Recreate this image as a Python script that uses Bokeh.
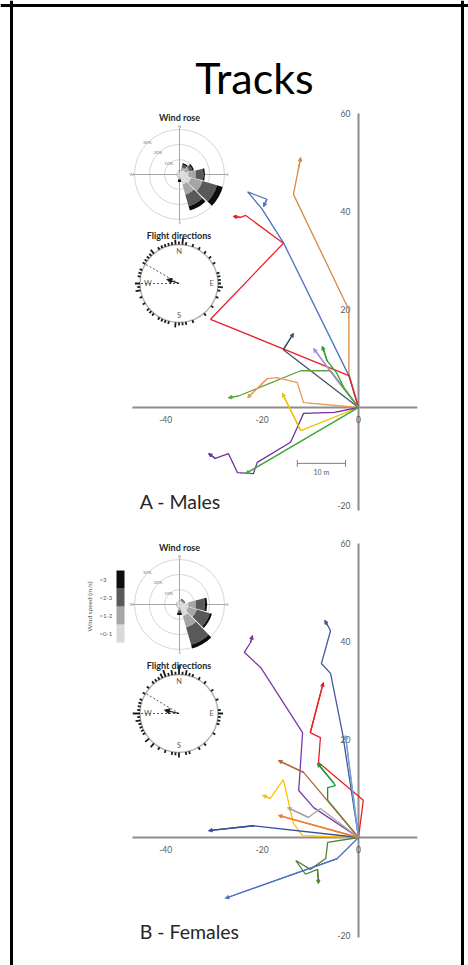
import math
from collections import Counter
from bokeh.plotting import figure
from bokeh.models import Range1d, Span, Label, Arrow, NormalHead, ColumnDataSource
from bokeh.core.properties import value
from bokeh.embed import file_html
from bokeh.resources import INLINE

# ---------------- data ----------------
title_text = "Tracks"
panel_labels = ["A - Males", "B - Females"]
x_tick_values = [-40, -20, 0]
y_tick_values = [60, 40, 20, -20]
scale_bar_m = 10

# Males: track coordinates (m), start at release point (0, 0)
m_orange_x = [0, -2, -2, -3, -13.5, -12.5, -12]
m_orange_y = [0, 7, 20, 22, 43.5, 48.5, 51]
m_blue_x = [0, -2, -15.5, -20, -23, -19, -19.7]
m_blue_y = [0, 6.5, 33.5, 40.5, 44, 42.5, 41]
m_red_x = [0, -2, -30.7, -15.6, -23.4, -24.5, -26]
m_red_y = [0, 6.5, 18, 33.5, 39.2, 38.8, 39]
m_slate_x = [0, -15.6, -13.5]
m_slate_y = [0, 11.8, 15.1]
m_green1_x = [0, -3, -4.5, -6.5, -7.5]
m_green1_y = [0, 4, 7, 9.5, 12.5]
m_lavender_x = [0, -4, -9.3]
m_lavender_y = [0, 5, 12]
m_green2_x = [0, -5.8, -12, -25, -27]
m_green2_y = [0, 7.5, 7.5, 2.3, 2]
m_tan_x = [0, -11.4, -12.7, -16.8, -18.9, -23]
m_tan_y = [0, 1, 5.1, 6.1, 5.9, 2]
m_yellow_x = [0, -12, -15.8]
m_yellow_y = [0, -4.7, 2.9]
m_purple_x = [0, -5, -11.4, -12.7, -14.1, -21, -21.8, -25.1, -27, -29.7, -31.1]
m_purple_y = [0, -1, -1.2, -4.1, -7.1, -11.2, -13.5, -13.3, -9.4, -10.4, -9.4]
m_green3_x = [0, -23.4]
m_green3_y = [0, -13.5]

# Females
f_purple_x = [0, -9.3, -12.4, -11.6, -20.3, -23.7, -22.4, -22]
f_purple_y = [0, 6.1, 9.6, 21.4, 34.7, 37.8, 39.8, 41.2]
f_navy_x = [0, -3.3, -5.8, -7.7, -5.8, -6.4, -7]
f_navy_y = [0, 21.2, 33.5, 35.5, 42.2, 43.3, 44.3]
f_red_x = [0, 1, -8.3, -7.9, -10, -7.3]
f_red_y = [0, 7.6, 15.3, 20.4, 21.4, 31.6]
f_lightblue_x = [0, -2.7]
f_lightblue_y = [0, 20.8]
f_green_x = [0, -6.4, -6.4, -4.8, -5.2, -8.5]
f_green_y = [0, 7.6, 10.2, 10.6, 11.2, 15.1]
f_brown_x = [0, -11.4, -16.6]
f_brown_y = [0, 13.3, 15.7]
f_yellow_x = [0, -11.6, -13.5, -15.6, -18.3, -19.9]
f_yellow_y = [0, 0.4, 2.9, 11.8, 8, 8.6]
f_gray_x = [0, -7.9, -10.4, -14.7]
f_gray_y = [0, 5.9, 4.1, 6.1]
f_orange_x = [0, -16.6]
f_orange_y = [0, 4.5]
f_darkblue_x = [0, -21.8, -31.1]
f_darkblue_y = [0, 2.4, 1.4]
f_dkgreen_x = [0, -6.4, -6.8, -10, -13, -11, -8.5, -8.3]
f_dkgreen_y = [0, -1, -4.3, -6.5, -4.7, -7.5, -6.5, -9.4]
f_blue_x = [0, -4.4, -27.6]
f_blue_y = [0, -4.3, -12.4]

# Wind rose: direction sectors (deg from N) and % frequency per speed class
wind_dirs = [0, 30, 60, 90, 120, 150, 180, 210, 240, 270, 300, 330]
speed_classes = [">0-1", ">1-2", ">2-3", ">3"]
m_wind_0_1 = [1.5, 3, 4, 6, 8, 7, 2, 1.5, 1.5, 2, 1.5, 1.5]
m_wind_1_2 = [1, 2, 3, 5, 8, 7, 1, 0.5, 0.5, 0.5, 0.5, 0.5]
m_wind_2_3 = [0.5, 2, 2, 5, 10, 8, 0.5, 0, 0, 0, 0, 0]
m_wind_3p = [0, 1, 1, 1, 4, 3, 1.5, 0, 0, 0, 0, 0]
f_wind_0_1 = [2, 2, 2, 6, 6, 8, 2, 2, 2, 2, 2, 1.5]
f_wind_1_2 = [1, 1, 1, 5, 6, 8, 2, 0.5, 0.5, 0.5, 0.5, 0.5]
f_wind_2_3 = [0, 1, 1, 6, 9, 12, 1.5, 0, 0, 0, 0, 0]
f_wind_3p = [0, 0, 0, 1.5, 1.5, 2.5, 1.5, 0, 0, 0, 0, 0]
rose_rings = [10, 20, 30]

# Flight directions (deg from N), one per track
m_flight_dirs = [352, 355, 355, 0, 3, 5, 5, 12, 22, 30, 42, 50, 58, 75, 82, 87, 90, 93, 97,
                 102, 110, 125, 140, 160, 168, 175, 180, 183, 187, 195, 200, 205, 212, 218,
                 225, 232, 240, 250, 258, 262, 265, 270, 272, 278, 283, 290, 298, 305, 310,
                 315, 318, 322, 328, 335, 340, 345]
f_flight_dirs = [330, 333, 335, 338, 340, 340, 345, 348, 352, 355, 358, 0, 0, 2, 5, 8, 10, 15,
                 20, 30, 40, 55, 70, 85, 90, 92, 95, 100, 105, 120, 140, 150, 165, 172, 178,
                 180, 183, 190, 200, 210, 218, 222, 228, 232, 238, 245, 250, 255, 260, 262,
                 265, 268, 270, 272, 275, 280, 285, 290, 300, 310, 318, 325]
m_mean_dir, m_mean_len = 289, 0.33
f_mean_dir, f_mean_len = 283, 0.38
m_dash_dirs = [270, 300]
f_dash_dirs = [270, 301]

# ---------------- layout / style ----------------
W, H = 468, 965
OX, OY = 0, 0
FONT = "Lato"
GREY = "#595959"
speed_colors = ["#d9d9d9", "#a6a6a6", "#595959", "#0d0d0d"]


def xr(c, s):
    return Range1d((OX - c) / s, (OX + W - c) / s)


def yr(c, s):
    return Range1d((c - (OY + H)) / s, (c - OY) / s)


def px(xp):
    return xp - OX


def py(yp):
    return OY + H - yp


p = figure(width=W, height=H, x_range=Range1d(0, W), y_range=Range1d(0, H),
           output_backend="svg", toolbar_location=None, min_border=0,
           x_axis_location=None, y_axis_location=None)
p.grid.visible = False
p.outline_line_color = None
p.background_fill_color = "white"
p.border_fill_color = "white"

# slide frame (left, right, top)
for sp in [Span(location=px(11), dimension="height"), Span(location=px(462), dimension="height"),
           Span(location=py(5), dimension="width")]:
    sp.line_color = "black"
    sp.line_width = 3
    p.add_layout(sp)

p.add_layout(Label(x=px(254), y=py(77), text=title_text, text_font=FONT, text_font_size="43px",
                   text_align="center", text_baseline="alphabetic", text_color="black"))

p.extra_x_ranges["trk"] = xr(358, 4.82)
p.extra_x_ranges["rose"] = xr(179, 1.5)
p.extra_x_ranges["fl"] = xr(178.5, 39)

panels = [
    dict(key="m", cy=407, rose_cy=174, fl_cy=283, label=panel_labels[0],
         tracks=[(m_orange_x, m_orange_y, "#d88a46"), (m_blue_x, m_blue_y, "#4a72c4"),
                 (m_red_x, m_red_y, "#e8212b"), (m_slate_x, m_slate_y, "#44546a"),
                 (m_lavender_x, m_lavender_y, "#a48fd0"), (m_green1_x, m_green1_y, "#2f9e2f"),
                 (m_green2_x, m_green2_y, "#5ea33e"), (m_tan_x, m_tan_y, "#e99a5a"),
                 (m_yellow_x, m_yellow_y, "#f0c000"), (m_purple_x, m_purple_y, "#7030a0"),
                 (m_green3_x, m_green3_y, "#45ad45")],
         wind=[m_wind_0_1, m_wind_1_2, m_wind_2_3, m_wind_3p],
         flights=m_flight_dirs, mean=(m_mean_dir, m_mean_len), dashes=m_dash_dirs,
         vaxis=(-21, 60), scale=True, legend=False),
    dict(key="f", cy=837, rose_cy=604, fl_cy=713, label=panel_labels[1],
         tracks=[(f_purple_x, f_purple_y, "#7a3aaa"), (f_navy_x, f_navy_y, "#46589a"),
                 (f_lightblue_x, f_lightblue_y, "#6fa3d8"), (f_red_x, f_red_y, "#ee1c25"),
                 (f_green_x, f_green_y, "#119a3a"), (f_brown_x, f_brown_y, "#b06a3c"),
                 (f_yellow_x, f_yellow_y, "#ffc000"), (f_gray_x, f_gray_y, "#a5a5a5"),
                 (f_orange_x, f_orange_y, "#ed7d31"), (f_darkblue_x, f_darkblue_y, "#35509a"),
                 (f_dkgreen_x, f_dkgreen_y, "#548235"), (f_blue_x, f_blue_y, "#4a72c4")],
         wind=[f_wind_0_1, f_wind_1_2, f_wind_2_3, f_wind_3p],
         flights=f_flight_dirs, mean=(f_mean_dir, f_mean_len), dashes=f_dash_dirs,
         vaxis=(-20.4, 60), scale=False, legend=True),
]


def polar(bearing, r):
    t = math.radians(bearing)
    return r * math.sin(t), r * math.cos(t)


for pan in panels:
    k = pan["key"]
    ty, ry, fy = "trk_" + k, "rose_" + k, "fl_" + k
    p.extra_y_ranges[ty] = yr(pan["cy"], 4.9)
    p.extra_y_ranges[ry] = yr(pan["rose_cy"], 1.5)
    p.extra_y_ranges[fy] = yr(pan["fl_cy"], 39)

    # ---- track panel axes ----
    kw = dict(x_range_name="trk", y_range_name=ty)
    v0, v1 = pan["vaxis"]
    p.segment(x0=[-46.9, 0], y0=[0, v0], x1=[12.2, 0], y1=[0, v1],
              line_color="#8c8c8c", line_width=2, **kw)
    p.text(x=[-1.7] * len(y_tick_values), y=y_tick_values, text=[str(v) for v in y_tick_values],
           text_align="right", text_baseline="middle", text_font=value(FONT),
           text_font_size="8.5px", text_color=GREY, **kw)
    p.text(x=x_tick_values, y=[-2.4] * len(x_tick_values), text=[str(v) for v in x_tick_values],
           text_align="center", text_baseline="middle", text_font=value(FONT),
           text_font_size="8.5px", text_color=GREY, **kw)

    for xs, ys, c in pan["tracks"]:
        p.line(xs, ys, line_color=c, line_width=1.3, **kw)
        p.add_layout(Arrow(end=NormalHead(size=3.5, fill_color=c, line_color=c, line_width=1),
                           x_start=xs[-2], y_start=ys[-2], x_end=xs[-1], y_end=ys[-1],
                           line_color=c, line_width=1.3, **kw))

    if pan["scale"]:
        sx0, sy = -12.7, -11.4
        p.segment(x0=[sx0, sx0, sx0 + scale_bar_m], y0=[sy, sy - 0.7, sy - 0.7],
                  x1=[sx0 + scale_bar_m, sx0, sx0 + scale_bar_m], y1=[sy, sy + 0.7, sy + 0.7],
                  line_color="#7f7f7f", line_width=1, **kw)
        p.add_layout(Label(x=sx0 + scale_bar_m / 2, y=sy - 1.8, text=f"{scale_bar_m} m",
                           text_font=FONT, text_font_size="7px", text_color=GREY,
                           text_align="center", text_baseline="middle", **kw))

    p.add_layout(Label(x=-45.4, y=-19.2, text=pan["label"], text_font=FONT,
                       text_font_size="19.5px", text_baseline="alphabetic",
                       text_color="#262626", **kw))

    # ---- wind rose ----
    rk = dict(x_range_name="rose", y_range_name=ry)
    p.circle(x=[0] * len(rose_rings), y=[0] * len(rose_rings), radius=rose_rings,
             fill_color=None, line_color="#d6d6d6", line_width=1, **rk)
    p.segment(x0=[-31, 0], y0=[0, -31], x1=[31, 0], y1=[0, 31],
              line_color="#a6a6a6", line_width=1, **rk)
    inner, outer, start, end, cols = [], [], [], [], []
    for i, d in enumerate(wind_dirs):
        cum = 0.0
        for ci, cls in enumerate(pan["wind"]):
            v = cls[i]
            if v <= 0:
                continue
            inner.append(cum)
            outer.append(cum + v)
            cum += v
            start.append(math.radians(90 - d - 14))
            end.append(math.radians(90 - d + 14))
            cols.append(speed_colors[ci])
    src = ColumnDataSource(dict(inner=inner, outer=outer, start=start, end=end, color=cols))
    p.annular_wedge(x=0, y=0, inner_radius="inner", outer_radius="outer",
                    start_angle="start", end_angle="end", fill_color="color",
                    line_color=None, source=src, **rk)
    rx = [-r * 0.72 for r in rose_rings]
    p.text(x=rx, y=[-v for v in rx], text=[f"{r}%" for r in rose_rings],
           text_align="center", text_baseline="middle", text_font=value(FONT),
           text_font_size="4.5px", text_color="#7f7f7f", **rk)
    p.text(x=[0, 32, 0, -32], y=[32, 0, -32, 0], text=["N", "E", "S", "W"],
           text_align="center", text_baseline="middle", text_font=value(FONT),
           text_font_size="4px", text_color="#7f7f7f", **rk)
    p.add_layout(Label(x=0, y=38, text="Wind rose", text_font=FONT, text_font_size="9px",
                       text_font_style="bold", text_align="center", text_baseline="middle",
                       text_color="#262626", **rk))

    # ---- flight directions ----
    fk = dict(x_range_name="fl", y_range_name=fy)
    p.circle(x=[0], y=[0], radius=[1], fill_color=None, line_color="#b3b3b3",
             line_width=1.5, **fk)
    cnt = Counter((round(a / 5) * 5) % 360 for a in pan["flights"])
    bx0, by0, bx1, by1 = [], [], [], []
    for b, n in cnt.items():
        a0 = polar(b, 1.0)
        a1 = polar(b, 1.0 + 0.055 * n + 0.02)
        bx0.append(a0[0]); by0.append(a0[1]); bx1.append(a1[0]); by1.append(a1[1])
    p.segment(x0=bx0, y0=by0, x1=bx1, y1=by1, line_color="#1a1a1a", line_width=1.8, **fk)
    dx = [polar(d, 1.0)[0] for d in pan["dashes"]]
    dy = [polar(d, 1.0)[1] for d in pan["dashes"]]
    p.segment(x0=[0] * len(dx), y0=[0] * len(dy), x1=dx, y1=dy, line_color=GREY,
              line_width=1, line_dash="2 2", **fk)
    md, ml = pan["mean"]
    mx, my = polar(md, ml)
    p.add_layout(Arrow(end=NormalHead(size=5, fill_color="#1a1a1a", line_color="#1a1a1a"),
                       x_start=0, y_start=0, x_end=mx, y_end=my, line_color="#1a1a1a",
                       line_width=1.2, **fk))
    p.text(x=[0, 0.84, 0, -0.8], y=[0.83, 0, -0.83, 0], text=["N", "E", "S", "W"],
           text_align="center", text_baseline="middle", text_font=value(FONT),
           text_font_size="7.5px", text_color=GREY, **fk)
    p.add_layout(Label(x=0, y=1.24, text="Flight directions", text_font=FONT,
                       text_font_size="9px", text_font_style="bold", text_align="center",
                       text_baseline="middle", text_color="#262626", **fk))

    # ---- wind speed legend ----
    if pan["legend"]:
        top_px, blk = 570, 18
        n = len(speed_classes)
        ys_leg = [py(top_px + blk / 2 + blk * (n - 1 - i)) for i in range(n)]
        p.rect(x=[px(120)] * n, y=ys_leg, width=8, height=blk,
               fill_color=speed_colors, line_color=None)
        p.text(x=[px(99)] * n, y=ys_leg, text=speed_classes, text_align="left",
               text_baseline="middle", text_font=value(FONT), text_font_size="6px",
               text_color=GREY)
        p.add_layout(Label(x=px(89), y=py(top_px + blk * n / 2), text="Wind speed (m/s)",
                           angle=math.pi / 2, text_font=FONT, text_font_size="6.5px",
                           text_align="center", text_baseline="middle", text_color=GREY))

open("out.html", "w").write(file_html(p, INLINE))
